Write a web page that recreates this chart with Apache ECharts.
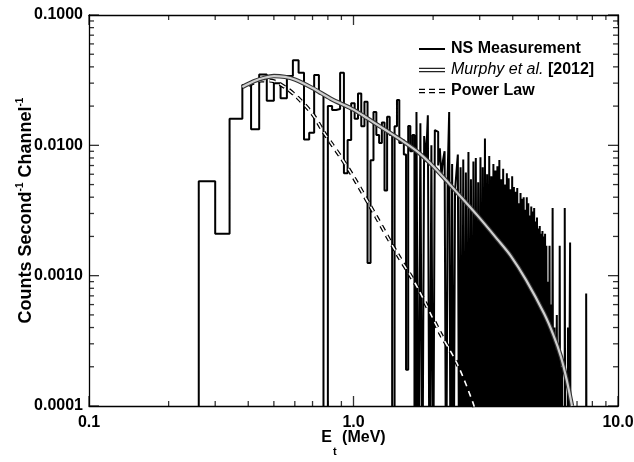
<!DOCTYPE html>
<html><head><meta charset="utf-8">
<script src="https://cdn.jsdelivr.net/npm/echarts@6/dist/echarts.min.js"></script>
<style>html,body{margin:0;padding:0;background:#fff}#c{width:634px;height:462px}</style>
</head><body><div id="c"></div>
<script>
// ---- axis ranges & tick values ----
const xRange = [0.1, 10];
const yRange = [0.0001, 0.1];
const xTicks = [0.1, 1, 10];
const xMinorTicks = [0.2,0.3,0.4,0.5,0.6,0.7,0.8,0.9,2,3,4,5,6,7,8,9];
const yTicks = [0.0001, 0.001, 0.01, 0.1];
const yMinorTicks = [0.0002,0.0003,0.0004,0.0005,0.0006,0.0007,0.0008,0.0009,
  0.002,0.003,0.004,0.005,0.006,0.007,0.008,0.009,
  0.02,0.03,0.04,0.05,0.06,0.07,0.08,0.09];

// ---- NS measurement histogram (counts s^-1 channel^-1), 0 = empty channel ----
const coarseEdges = [0.26, 0.30, 0.34];          // lower edges of first (wide) channels, MeV
const coarseCounts = [0.0053, 0.0021, 0.016];
const fineStart = 0.38;                          // MeV, first narrow channel
const fineWidth = 0.03;                          // MeV per narrow channel
const fineCounts = [
  // 0.38 - 0.77
  0.029, 0.0133, 0.035, 0.022, 0.030, 0.023, 0.034, 0.045, 0.036, 0.0111, 0.0125, 0.0347, 0.025, 0,
  // 0.80 - 2.18
  0.020, 0.0187, 0.019, 0.036, 0.0061, 0.011, 0.021, 0.016, 0.025, 0.014,
  0.0216, 0.00125, 0.0077, 0.018, 0.012, 0.0104, 0.015, 0.0045, 0.0166, 0.012,
  0, 0.014, 0.0223, 0.0104, 0.011, 0.0085, 0.00019, 0.0141, 0.009, 0.012,
  0, 0.018, 0, 0.0148, 0, 0.0118, 0.0075, 0.017, 0, 0.0100,
  0, 0.0131, 0.0127, 0.0070, 0.0095, 0.0058, 0.0077,
  // 2.21 - 5.39
  0.0090, 0, 0.0060, 0.018, 0, 0.0072, 0, 0.0045, 0.0062, 0.0085,
  0, 0.0068, 0, 0.0078, 0, 0.0062, 0, 0.0089, 0, 0.0055,
  0, 0.0075, 0, 0.0080, 0, 0.0052, 0, 0.0081, 0, 0.0068,
  0, 0.0113, 0, 0.0060, 0, 0.0083, 0, 0.0058, 0, 0.0072,
  0, 0.0064, 0, 0.0069, 0, 0.0077, 0, 0.0055, 0, 0.0066,
  0, 0.0050, 0, 0.0061, 0, 0.0056, 0, 0.0046, 0, 0.0058,
  0, 0.0048, 0, 0.0044, 0, 0.0047, 0, 0.0036, 0, 0.0043,
  0, 0.0039, 0, 0.0040, 0, 0.0032, 0, 0.0040, 0, 0.0036,
  0, 0.0029, 0, 0.0034, 0, 0.0031, 0, 0.0033, 0, 0.0026,
  0, 0.0028, 0, 0.0023, 0, 0.0024, 0, 0.0021, 0, 0.0022,
  0, 0.0020, 0, 0.0021, 0, 0.0017, 0,
  // 5.42 - 6.68
  0, 0.0009, 0, 0.0017, 0, 0, 0.0006, 0, 0.0033, 0,
  0, 0.0004, 0, 0, 0, 0.0005, 0, 0, 0.0003, 0,
  0.0017, 0, 0, 0, 0.0002, 0, 0, 0, 0, 0.0033,
  0, 0, 0, 0, 0, 0.0004, 0, 0, 0, 0.0018,
  0, 0, 0,
  // 6.71 - 7.61
  0, 0, 0, 0, 0, 0, 0, 0, 0, 0,
  0, 0, 0, 0, 0, 0, 0, 0, 0, 0,
  0, 0, 0, 0, 0, 0, 0, 0, 0,
  0.00073, 0
];

// ---- Murphy et al. [2012] model ----
const murphyE = [0.38, 0.42, 0.46, 0.50, 0.55, 0.60, 0.70, 0.82, 1.0, 1.13, 1.3, 1.5, 1.75, 2.0, 2.5, 2.94, 3.5, 3.93, 4.5, 5.26, 5.7, 6.08, 6.4, 6.7];
const murphyRate = [0.028, 0.031, 0.033, 0.034, 0.0335, 0.032, 0.0275, 0.0228, 0.0188, 0.0161, 0.0134, 0.0111, 0.0089, 0.0069, 0.0042, 0.0029, 0.0019, 0.00142, 0.00092, 0.00051, 0.00035, 0.00024, 0.000158, 0.0001];

// ---- Power law ----
const powerE = [0.40, 0.45, 0.50, 0.55, 0.61, 0.70, 0.77, 0.82, 0.90, 1.0, 1.16, 1.46, 1.74, 2.13, 2.47, 2.82, 2.95];
const powerRate = [0.029, 0.0315, 0.031, 0.028, 0.0236, 0.0174, 0.0127, 0.0105, 0.0080, 0.0057, 0.00338, 0.00148, 0.00082, 0.00036, 0.00021, 0.000108, 0.00008];

// ---- build library data ----
const FLOOR = 1e-5; // below axis minimum -> drawn down to the axis and clipped
const fv = v => (v > 0 ? v : FLOOR);
const histPts = [[xRange[0], FLOOR]];
coarseEdges.forEach((e, i) => histPts.push([e, fv(coarseCounts[i])]));
fineCounts.forEach((v, k) => histPts.push([+(fineStart + fineWidth * k).toFixed(4), fv(v)]));
histPts.push([+(fineStart + fineWidth * fineCounts.length).toFixed(4), fv(fineCounts[fineCounts.length - 1])]);
const murphyPts = murphyE.map((e, i) => [e, murphyRate[i]]);
const powerPts = powerE.map((e, i) => [e, powerRate[i]]);

const FONT = "'Liberation Sans', Arial, Helvetica, sans-serif";
const black = '#000';

// tick marks drawn as thin rect symbols placed through the axis scales
function tickMarks(values, side, len) {
  const isX = side === 'bottom' || side === 'top';
  const at = side === 'bottom' ? yRange[0] : side === 'top' ? yRange[1] : side === 'left' ? xRange[0] : xRange[1];
  const off = { bottom: [0, -len / 2], top: [0, len / 2], left: [len / 2, 0], right: [-len / 2, 0] }[side];
  return {
    type: 'scatter', xAxisIndex: 0, yAxisIndex: 0, silent: true, clip: false, z: 20,
    data: values.map(v => (isX ? [v, at] : [at, v])),
    symbol: 'rect', symbolSize: isX ? [1.3, len] : [len, 1.3], symbolOffset: off,
    itemStyle: { color: black, borderWidth: 0 }, emphasis: { disabled: true }
  };
}

const chart = echarts.init(document.getElementById('c'), null, { renderer: 'canvas' });
chart.setOption({
  animation: false,
  backgroundColor: '#fff',
  grid: { left: 89, right: 16, top: 15, bottom: 56, containLabel: false, outerBoundsMode: 'none' },
  xAxis: [
    { type: 'log', logBase: 10, min: xRange[0], max: xRange[1], position: 'bottom',
      axisLine: { show: true, onZero: false, lineStyle: { color: black, width: 1.3 } },
      axisTick: { show: false },
      axisLabel: { show: true, customValues: xTicks, formatter: v => Number(v).toFixed(1),
        fontFamily: FONT, fontSize: 16, fontWeight: 'bold', color: black, margin: 9 },
      splitLine: { show: false }, minorTick: { show: false },
      name: '{a|E}{t|t}{a| (MeV)}', nameLocation: 'middle', nameGap: 24, nameMoveOverlap: false,
      nameTextStyle: { rich: {
        a: { fontFamily: FONT, fontSize: 16, fontWeight: 'bold', color: black, verticalAlign: 'top', lineHeight: 18 },
        t: { fontFamily: FONT, fontSize: 11, fontWeight: 'bold', color: black, verticalAlign: 'top', padding: [16, 1, 0, 1] }
      } } },
    { type: 'log', logBase: 10, min: xRange[0], max: xRange[1], position: 'top',
      axisLine: { show: true, onZero: false, lineStyle: { color: black, width: 1.3 } },
      axisTick: { show: false }, axisLabel: { show: false }, splitLine: { show: false } }
  ],
  yAxis: [
    { type: 'log', logBase: 10, min: yRange[0], max: yRange[1], position: 'left',
      axisLine: { show: true, onZero: false, lineStyle: { color: black, width: 1.3 } },
      axisTick: { show: false },
      axisLabel: { show: true, customValues: yTicks, formatter: v => Number(v).toFixed(4),
        fontFamily: FONT, fontSize: 16, fontWeight: 'bold', color: black, margin: 6 },
      splitLine: { show: false }, minorTick: { show: false },
      name: '{a|Counts Second}{s|-1}{a| Channel}{s|-1}', nameLocation: 'middle', nameGap: 54, nameRotate: 90,
      nameMoveOverlap: false,
      nameTextStyle: { rich: {
        a: { fontFamily: FONT, fontSize: 18, fontWeight: 'bold', color: black, verticalAlign: 'bottom', lineHeight: 20 },
        s: { fontFamily: FONT, fontSize: 10, fontWeight: 'bold', color: black, verticalAlign: 'top', lineHeight: 10 }
      } } },
    { type: 'log', logBase: 10, min: yRange[0], max: yRange[1], position: 'right',
      axisLine: { show: true, onZero: false, lineStyle: { color: black, width: 1.3 } },
      axisTick: { show: false }, axisLabel: { show: false }, splitLine: { show: false } }
  ],
  legend: {
    orient: 'vertical', left: 414, top: 36, itemWidth: 26, itemHeight: 8, itemGap: 5,
    selectedMode: false,
    itemStyle: { borderWidth: 0 },
    data: [
      { name: 'NS Measurement', icon: 'path://M0,0h26v2h-26z', itemStyle: { color: black } },
      { name: 'Murphy et al. [2012]', icon: 'path://M0,0h26v1.4h-26z M0,3.2h26v1.4h-26z', itemStyle: { color: '#222' } },
      { name: 'Power Law', icon: 'path://M0,0h6v1.4h-6z M0,3.2h6v1.4h-6z M10,0h6v1.4h-6z M10,3.2h6v1.4h-6z M20,0h6v1.4h-6z M20,3.2h6v1.4h-6z', itemStyle: { color: black } }
    ],
    formatter: name => name === 'Murphy et al. [2012]' ? '{i|Murphy et al.} {b|[2012]}' : '{p|' + name + '}',
    textStyle: {
      fontFamily: FONT, fontSize: 16, fontWeight: 'bold', color: black,
      rich: {
        p: { fontFamily: FONT, fontSize: 16, fontWeight: 'bold', color: black, padding: [0, 0, 0, 1] },
        i: { fontFamily: FONT, fontSize: 16, fontStyle: 'italic', fontWeight: 'normal', color: black, padding: [0, 0, 0, 1] },
        b: { fontFamily: FONT, fontSize: 16, fontWeight: 'bold', color: black }
      }
    }
  },
  series: [
    { name: 'NS Measurement', type: 'line', step: 'end', data: histPts, showSymbol: false, symbol: 'none',
      xAxisIndex: 0, yAxisIndex: 0, clip: true, z: 2,
      lineStyle: { color: black, width: 2 }, itemStyle: { color: black } },
    { name: 'Power Law', type: 'line', data: powerPts, smooth: 0.3, symbol: 'none', z: 3,
      xAxisIndex: 0, yAxisIndex: 0, clip: true,
      lineStyle: { color: black, width: 4, type: [6, 5] }, itemStyle: { color: black } },
    { name: 'powerInner', type: 'line', data: powerPts, smooth: 0.3, symbol: 'none', z: 4,
      xAxisIndex: 0, yAxisIndex: 0, clip: true,
      lineStyle: { color: '#fff', width: 1.6, type: [6, 5] }, itemStyle: { color: '#fff' } },
    { name: 'Murphy et al. [2012]', type: 'line', data: murphyPts, smooth: 0.3, symbol: 'none', z: 5,
      xAxisIndex: 0, yAxisIndex: 0, clip: true,
      lineStyle: { color: '#333', width: 4.4 }, itemStyle: { color: '#222' } },
    { name: 'murphyInner', type: 'line', data: murphyPts, smooth: 0.3, symbol: 'none', z: 6,
      xAxisIndex: 0, yAxisIndex: 0, clip: true,
      lineStyle: { color: '#cfcfcf', width: 2.2 }, itemStyle: { color: '#cfcfcf' } },
    tickMarks(xTicks, 'bottom', 10),
    tickMarks(xTicks, 'top', 10),
    tickMarks(xMinorTicks, 'bottom', 5),
    tickMarks(xMinorTicks, 'top', 5),
    tickMarks(yTicks, 'left', 10),
    tickMarks(yTicks, 'right', 10),
    tickMarks(yMinorTicks, 'left', 5),
    tickMarks(yMinorTicks, 'right', 5)
  ]
});
</script></body></html>
